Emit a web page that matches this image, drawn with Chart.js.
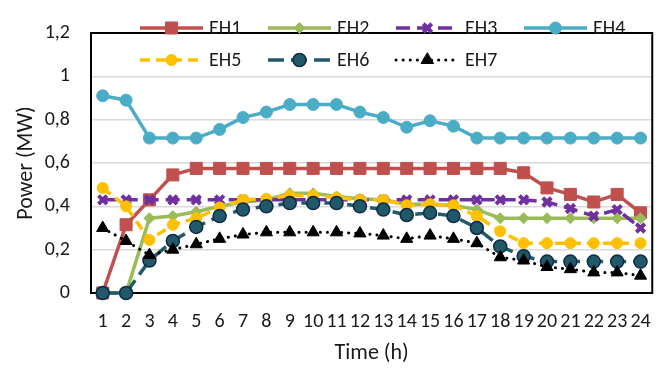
<!DOCTYPE html>
<html>
<head>
<meta charset="utf-8">
<script src="https://cdn.jsdelivr.net/npm/chart.js@4.4.1/dist/chart.umd.min.js"></script>
<style>
  html, body { margin: 0; padding: 0; background: #fff; }
  #wrap { width: 668px; height: 371px; }
</style>
</head>
<body>
<div id="wrap"><canvas id="chart" width="668" height="371"></canvas></div>
<script>
// Chart data
const hours = ['1', '2', '3', '4', '5', '6', '7', '8', '9', '10', '11', '12',
               '13', '14', '15', '16', '17', '18', '19', '20', '21', '22', '23', '24'];
const eh1 = [0, 0.315, 0.43, 0.545, 0.575, 0.575, 0.575, 0.575, 0.575, 0.575, 0.575, 0.575,
             0.575, 0.575, 0.575, 0.575, 0.575, 0.575, 0.555, 0.485, 0.455, 0.42, 0.455, 0.37];
const eh2 = [0, 0, 0.345, 0.355, 0.375, 0.40, 0.42, 0.43, 0.46, 0.46, 0.445, 0.435,
             0.43, 0.41, 0.41, 0.405, 0.385, 0.345, 0.345, 0.345, 0.345, 0.345, 0.345, 0.345];
const eh3 = [0.43, 0.43, 0.43, 0.43, 0.43, 0.43, 0.43, 0.43, 0.43, 0.43, 0.43, 0.43,
             0.43, 0.43, 0.43, 0.43, 0.43, 0.43, 0.43, 0.42, 0.39, 0.355, 0.385, 0.30];
const eh4 = [0.91, 0.89, 0.715, 0.715, 0.715, 0.755, 0.81, 0.835, 0.87, 0.87, 0.87, 0.835,
             0.81, 0.765, 0.795, 0.77, 0.715, 0.715, 0.715, 0.715, 0.715, 0.715, 0.715, 0.715];
const eh5 = [0.485, 0.40, 0.245, 0.315, 0.345, 0.395, 0.43, 0.435, 0.45, 0.45, 0.44, 0.43,
             0.43, 0.405, 0.41, 0.405, 0.355, 0.285, 0.23, 0.23, 0.23, 0.23, 0.23, 0.23];
const eh6 = [0, 0, 0.15, 0.24, 0.305, 0.355, 0.385, 0.40, 0.415, 0.415, 0.415, 0.40,
             0.385, 0.36, 0.37, 0.355, 0.30, 0.215, 0.17, 0.145, 0.145, 0.145, 0.145, 0.145];
const eh7 = [0.30, 0.24, 0.175, 0.20, 0.225, 0.25, 0.27, 0.28, 0.28, 0.28, 0.28, 0.275,
             0.265, 0.25, 0.265, 0.25, 0.23, 0.165, 0.15, 0.12, 0.11, 0.095, 0.095, 0.08];

const FONT = 'Carlito, "Open Sans", sans-serif';
const TEXT = '#1a1a1a';

function series(label, data, color, extra) {
    return Object.assign({
        label: label,
        data: data,
        borderColor: color,
        backgroundColor: color,
        pointBackgroundColor: color,
        pointBorderColor: color,
        borderWidth: 3.5,
        pointBorderWidth: 1,
        tension: 0,
        clip: false
    }, extra);
}

const datasets = [
    series('EH1', eh1, '#C0504D', { pointStyle: 'rect', pointRadius: 8.5, order: 7 }),
    series('EH2', eh2, '#9BBB59', { pointStyle: 'rectRot', pointRadius: 5.5, order: 6 }),
    series('EH3', eh3, '#7030A0', { pointStyle: 'crossRot', pointRadius: 6, pointBorderWidth: 4,
                                    borderDash: [14, 7], order: 5 }),
    series('EH4', eh4, '#4BACC6', { pointStyle: 'circle', pointRadius: 6, order: 4 }),
    series('EH5', eh5, '#FFC000', { pointStyle: 'circle', pointRadius: 5.5, borderDash: [10, 6], order: 3 }),
    series('EH6', eh6, '#215968', { pointStyle: 'circle', pointRadius: 6.5, pointBorderColor: '#0F2A4A',
                                    pointBorderWidth: 1.5, borderDash: [16, 7], order: 2 }),
    series('EH7', eh7, '#000000', { pointStyle: 'triangle', pointRadius: 7, borderWidth: 3,
                                    borderDash: [0.1, 7], borderCapStyle: 'round', order: 1 })
];

// black frame round the plot area, under the lines
const frame = {
    id: 'frame',
    beforeDatasetsDraw(chart) {
        const a = chart.chartArea, ctx = chart.ctx;
        ctx.save();
        ctx.strokeStyle = '#000';
        ctx.lineWidth = 2;
        ctx.strokeRect(a.left, a.top, a.right - a.left, a.bottom - a.top);
        ctx.restore();
    }
};

// legend inside the plot: line sample with the marker in its middle
const insideLegend = {
    id: 'insideLegend',
    afterDatasetsDraw(chart) {
        const ctx = chart.ctx;
        const startX = 140, colW = 128, rowY = [28, 60], lineLen = 63;
        ctx.save();
        chart.data.datasets.forEach((ds, i) => {
            const x = startX + (i % 4) * colW;
            const y = rowY[Math.floor(i / 4)];
            ctx.strokeStyle = ds.borderColor;
            ctx.lineWidth = ds.borderWidth;
            ctx.lineCap = ds.borderCapStyle || 'butt';
            ctx.setLineDash(ds.borderDash || []);
            ctx.beginPath();
            ctx.moveTo(x, y);
            ctx.lineTo(x + lineLen, y);
            ctx.stroke();
            ctx.setLineDash([]);
            ctx.fillStyle = ds.pointBackgroundColor;
            ctx.strokeStyle = ds.pointBorderColor;
            ctx.lineWidth = ds.pointBorderWidth;
            Chart.helpers.drawPoint(ctx, {
                pointStyle: ds.pointStyle,
                radius: ds.pointRadius,
                rotation: 0,
                borderWidth: ds.pointBorderWidth
            }, x + lineLen / 2, y);
            ctx.fillStyle = TEXT;
            ctx.font = '20px ' + FONT;
            ctx.textBaseline = 'middle';
            ctx.textAlign = 'left';
            ctx.fillText(ds.label, x + lineLen + 6, y + 1);
        });
        ctx.restore();
    }
};

new Chart(document.getElementById('chart'), {
    type: 'line',
    data: { labels: hours, datasets: datasets },
    options: {
        responsive: false,
        animation: false,
        layout: { padding: { top: 12, right: 15, left: 0, bottom: 0 } },
        plugins: {
            legend: { display: false },
            tooltip: { enabled: false }
        },
        scales: {
            x: {
                offset: true,
                grid: { display: false, drawTicks: false },
                border: { display: false },
                ticks: {
                    autoSkip: false, maxRotation: 0, padding: 17,
                    color: TEXT, font: { family: FONT, size: 20 }
                },
                title: {
                    display: true, text: 'Time (h)', color: TEXT,
                    font: { family: FONT, size: 22 }, padding: { top: 0, bottom: 4 }
                },
                afterFit(scale) { scale.height = 78; }
            },
            y: {
                min: 0, max: 1.2,
                grid: { color: '#d9d9d9', lineWidth: 1.5, drawTicks: false },
                border: { display: false },
                ticks: {
                    stepSize: 0.2, padding: 21, color: TEXT,
                    font: { family: FONT, size: 20 },
                    callback: v => String(Math.round(v * 10) / 10).replace('.', ',')
                },
                title: {
                    display: true, text: 'Power (MW)', color: TEXT,
                    font: { family: FONT, size: 22 }, padding: { top: 13, bottom: 0 }
                },
                afterFit(scale) { scale.width = 91; }
            }
        }
    },
    plugins: [frame, insideLegend]
});
</script>
</body>
</html>
